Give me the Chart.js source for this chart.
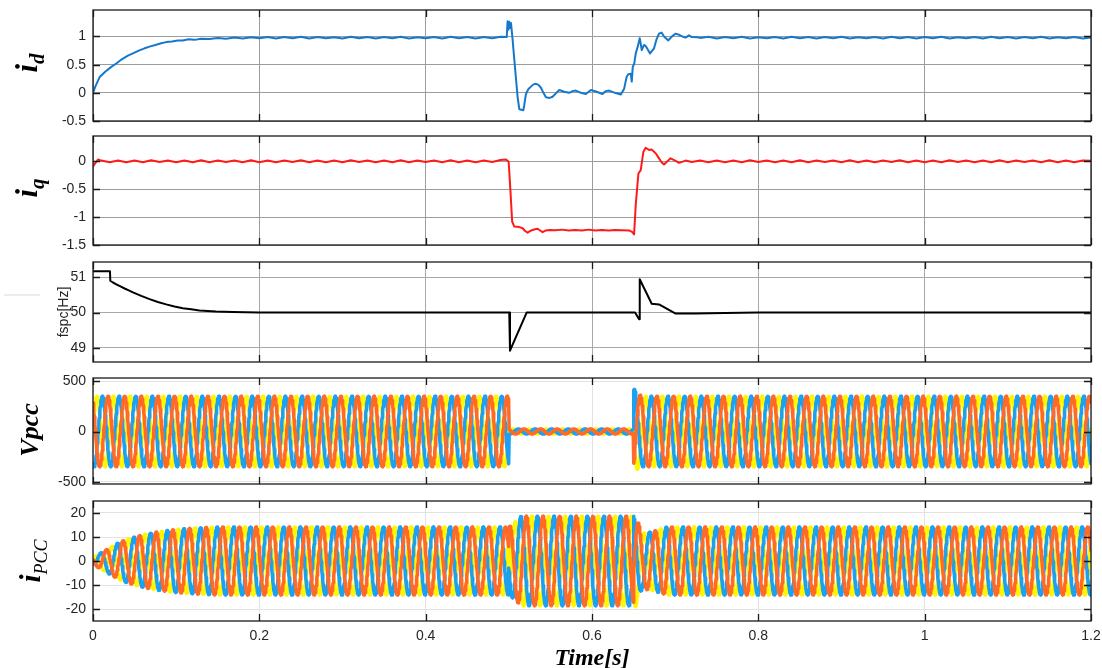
<!DOCTYPE html>
<html>
<head>
<meta charset="utf-8">
<script src="https://cdn.jsdelivr.net/npm/chart.js@4.4.1/dist/chart.umd.min.js"></script>
<style>
  html, body { margin: 0; padding: 0; background: #ffffff; }
  #wrap { position: relative; width: 1102px; height: 668px; overflow: hidden; background: #fff; }
  .panel { position: absolute; left: 0; width: 1102px; }
  .ylab { position: absolute; white-space: nowrap; transform: translate(-50%, -50%) rotate(-90deg); transform-origin: center center; line-height: 1; color: #000; }
  .serif { font-family: "Liberation Serif", "Times New Roman", serif; font-style: italic; font-weight: bold; }
  .sans { font-family: "Liberation Sans", Arial, sans-serif; }
  #xtitle { position: absolute; left: 592px; top: 657px; transform: translate(-50%, -50%); white-space: nowrap; font-size: 24px; line-height: 1; }
  #dash { position: absolute; left: 4px; top: 294px; width: 36px; height: 2px; background: #ececec; }
</style>
</head>
<body>
<div id="wrap">
  <div class="panel" id="p1"><canvas id="c1"></canvas></div>
  <div class="panel" id="p2"><canvas id="c2"></canvas></div>
  <div class="panel" id="p3"><canvas id="c3"></canvas></div>
  <div class="panel" id="p4"><canvas id="c4"></canvas></div>
  <div class="panel" id="p5"><canvas id="c5"></canvas></div>

  <div class="ylab serif" style="left:29px;top:63px;font-size:31px;">i<sub style="font-size:21px;vertical-align:-7px;">d</sub></div>
  <div class="ylab serif" style="left:29px;top:188px;font-size:31px;">i<sub style="font-size:21px;vertical-align:-7px;">q</sub></div>
  <div class="ylab sans" style="left:63px;top:312px;font-size:14px;color:#262626;">fspc[Hz]</div>
  <div class="ylab serif" style="left:30px;top:430px;font-size:26px;">Vpcc</div>
  <div class="ylab serif" style="left:33px;top:561px;font-size:29px;">i<sub style="font-size:18px;font-weight:normal;vertical-align:-7px;">PCC</sub></div>
  <div id="xtitle" class="serif">Time[s]</div>
  <div id="dash"></div>
</div>

<script>
// ---- shared time axis ----
const timeTicks = [0, 0.2, 0.4, 0.6, 0.8, 1, 1.2];
const timeTickLabels = ['0', '0.2', '0.4', '0.6', '0.8', '1', '1.2'];

// ---- d-axis current i_d (p.u.) ----
const idT = [0, 0.003, 0.008, 0.015, 0.022, 0.028, 0.035, 0.042, 0.048, 0.055, 0.062, 0.068, 0.075, 0.082, 0.088, 0.095, 0.102, 0.108, 0.115, 0.122, 0.13,
  0.14, 0.15, 0.16, 0.17, 0.18, 0.19, 0.20, 0.21, 0.22, 0.23, 0.24, 0.25, 0.26, 0.27, 0.28, 0.29, 0.30, 0.31, 0.32, 0.33, 0.34, 0.35, 0.36, 0.37, 0.38, 0.39, 0.40, 0.41, 0.42, 0.43, 0.44, 0.45, 0.46, 0.47, 0.48, 0.49,
  0.4975, 0.4985, 0.4995, 0.5005, 0.5015, 0.5026, 0.5045, 0.5066, 0.5086, 0.5106, 0.5126, 0.515, 0.5174, 0.5185, 0.5206, 0.5236, 0.5266, 0.5296, 0.5326, 0.5356, 0.5386, 0.5416, 0.5446, 0.549, 0.5526, 0.5566, 0.5606, 0.5666, 0.5726, 0.5766, 0.5806, 0.5866, 0.5926, 0.5986, 0.6056, 0.6126, 0.6166, 0.6206, 0.6276, 0.6346, 0.6386, 0.6416, 0.6436, 0.6466, 0.6478, 0.649, 0.6508, 0.6526, 0.655, 0.6574, 0.6586, 0.6598, 0.6625, 0.6646, 0.6698, 0.6746, 0.6776, 0.6806, 0.6836, 0.6866, 0.6918, 0.696, 0.7006, 0.7046, 0.7086, 0.7126, 0.7166, 0.72, 0.7266, 0.73,
  0.74, 0.75, 0.76, 0.77, 0.78, 0.79, 0.80, 0.81, 0.82, 0.83, 0.84, 0.85, 0.86, 0.87, 0.88, 0.89, 0.90, 0.91, 0.92, 0.93, 0.94, 0.95, 0.96, 0.97, 0.98, 0.99, 1.00, 1.01, 1.02, 1.03, 1.04, 1.05, 1.06, 1.07, 1.08, 1.09, 1.10, 1.11, 1.12, 1.13, 1.14, 1.15, 1.16, 1.17, 1.18, 1.19, 1.20];
const idV = [0, 0.12, 0.28, 0.38, 0.46, 0.52, 0.60, 0.66, 0.70, 0.75, 0.79, 0.82, 0.85, 0.88, 0.90, 0.91, 0.93, 0.93, 0.95, 0.94, 0.96,
  0.955, 0.975, 0.96, 0.98, 0.965, 0.985, 0.97, 0.99, 0.965, 0.99, 0.97, 0.995, 0.965, 0.99, 0.97, 0.985, 0.965, 0.995, 0.97, 0.99, 0.965, 0.99, 0.97, 0.995, 0.965, 0.985, 0.97, 0.99, 0.965, 0.995, 0.97, 0.99, 0.965, 0.99, 0.97, 0.995,
  0.99, 1.27, 1.12, 1.26, 1.15, 1.24, 0.95, 0.59, 0.25, -0.08, -0.29, -0.30, -0.31, -0.22, -0.02, 0.07, 0.11, 0.15, 0.16, 0.14, 0.09, 0.0, -0.08, -0.09, -0.07, -0.01, 0.05, 0.02, 0.0, 0.03, 0.04, 0.0, -0.02, 0.05, 0.02, -0.02, 0.03, 0.04, 0.0, -0.03, 0.07, 0.28, 0.33, 0.34, 0.20, 0.46, 0.52, 0.70, 0.82, 0.97, 0.87, 0.76, 0.85, 0.83, 0.70, 0.79, 0.95, 1.05, 1.07, 1.0, 0.93, 1.0, 1.05, 1.03, 1.0, 0.98, 1.02, 0.99, 0.985, 0.975,
  0.995, 0.965, 0.99, 0.97, 0.995, 0.965, 0.985, 0.97, 0.99, 0.965, 0.995, 0.97, 0.99, 0.965, 0.99, 0.97, 0.995, 0.965, 0.985, 0.97, 0.99, 0.965, 0.995, 0.97, 0.99, 0.965, 0.99, 0.97, 0.995, 0.965, 0.985, 0.97, 0.99, 0.965, 0.995, 0.97, 0.99, 0.965, 0.99, 0.97, 0.995, 0.965, 0.985, 0.97, 0.99, 0.965, 0.98];

// ---- q-axis current i_q (p.u.) ----
const iqT = [0, 0.003, 0.006, 0.01,
  0.02, 0.03, 0.04, 0.05, 0.06, 0.07, 0.08, 0.09, 0.10, 0.11, 0.12, 0.13, 0.14, 0.15, 0.16, 0.17, 0.18, 0.19, 0.20, 0.21, 0.22, 0.23, 0.24, 0.25, 0.26, 0.27, 0.28, 0.29, 0.30, 0.31, 0.32, 0.33, 0.34, 0.35, 0.36, 0.37, 0.38, 0.39, 0.40, 0.41, 0.42, 0.43, 0.44, 0.45, 0.46, 0.47, 0.48, 0.49,
  0.4966, 0.4998, 0.502, 0.504, 0.5066, 0.5126, 0.5166, 0.5196, 0.5226, 0.5256, 0.5286, 0.5316, 0.5346, 0.5376, 0.5406, 0.5446, 0.5486, 0.556, 0.564, 0.572, 0.58, 0.588, 0.596, 0.604, 0.612, 0.62, 0.628, 0.636, 0.6446, 0.6486, 0.6506, 0.6526, 0.6558, 0.6586, 0.6618, 0.6646, 0.6686, 0.6716, 0.6746, 0.6776, 0.6806, 0.6836, 0.6866, 0.69, 0.6946, 0.70, 0.7046, 0.7126, 0.72, 0.73,
  0.74, 0.75, 0.76, 0.77, 0.78, 0.79, 0.80, 0.81, 0.82, 0.83, 0.84, 0.85, 0.86, 0.87, 0.88, 0.89, 0.90, 0.91, 0.92, 0.93, 0.94, 0.95, 0.96, 0.97, 0.98, 0.99, 1.00, 1.01, 1.02, 1.03, 1.04, 1.05, 1.06, 1.07, 1.08, 1.09, 1.10, 1.11, 1.12, 1.13, 1.14, 1.15, 1.16, 1.17, 1.18, 1.19, 1.20];
const iqV = [-0.10, -0.03, 0.03, 0.01,
  -0.02, 0.012, -0.018, 0.01, -0.02, 0.015, -0.015, 0.01, -0.02, 0.012, -0.018, 0.015, -0.02, 0.01, -0.015, 0.012, -0.02, 0.015, -0.018, 0.01, -0.02, 0.012, -0.015, 0.015, -0.02, 0.01, -0.018, 0.012, -0.02, 0.015, -0.015, 0.01, -0.02, 0.012, -0.018, 0.015, -0.02, 0.01, -0.015, 0.012, -0.02, 0.015, -0.018, 0.01, -0.02, 0.012, -0.015, 0.02,
  0.03, -0.01, -0.55, -1.08, -1.17, -1.18, -1.20, -1.25, -1.28, -1.25, -1.23, -1.22, -1.21, -1.24, -1.27, -1.24, -1.23, -1.235, -1.225, -1.24, -1.23, -1.24, -1.225, -1.24, -1.23, -1.24, -1.23, -1.235, -1.24, -1.27, -1.31, -0.78, -0.22, -0.16, 0.17, 0.24, 0.20, 0.21, 0.17, 0.12, 0.05, -0.02, -0.06, -0.01, 0.05, 0.01, -0.03, 0.01, -0.015, 0.01,
  -0.02, 0.012, -0.018, 0.01, -0.02, 0.015, -0.015, 0.01, -0.02, 0.012, -0.018, 0.015, -0.02, 0.01, -0.015, 0.012, -0.02, 0.015, -0.018, 0.01, -0.02, 0.012, -0.015, 0.015, -0.02, 0.01, -0.018, 0.012, -0.02, 0.015, -0.015, 0.01, -0.02, 0.012, -0.018, 0.015, -0.02, 0.01, -0.015, 0.012, -0.02, 0.015, -0.018, 0.01, -0.02, 0.012, 0.005];

// ---- PLL frequency fspc (Hz) ----
const fT = [0, 0.0204, 0.0208, 0.024, 0.028, 0.033, 0.038, 0.043, 0.048, 0.058, 0.068, 0.078, 0.088, 0.098, 0.108, 0.118, 0.128, 0.148, 0.168, 0.2, 0.3, 0.4, 0.5005, 0.5014, 0.5214, 0.6, 0.6518, 0.6566, 0.6574, 0.6718, 0.6806, 0.7006, 0.7246, 0.76, 0.8, 1.0, 1.2];
const fV = [51.17, 51.17, 50.9, 50.85, 50.8, 50.74, 50.68, 50.625, 50.57, 50.47, 50.38, 50.3, 50.23, 50.17, 50.12, 50.09, 50.06, 50.03, 50.015, 50.0, 50.0, 50.0, 50.0, 48.92, 50.0, 50.0, 50.0, 49.81, 50.94, 50.25, 50.23, 49.97, 49.97, 49.99, 50.0, 50.0, 50.0];

// ---- three-phase PCC voltage: peak envelope (V) ----
const gridFreq = 50;            // Hz
const vpccEnvT = [0, 0.5, 0.5004, 0.65, 0.6504, 0.653, 0.66, 1.2];
const vpccEnvA = [350, 350, 25, 25, 430, 380, 350, 350];
const vpccPhaseT = [0];
const vpccPhaseDeg = [0];
const vpccPeakTime = 0.018;     // phase "a" crest

// ---- three-phase PCC current: peak envelope (A) ----
const ipccEnvT = [0, 0.005, 0.01, 0.02, 0.03, 0.04, 0.06, 0.08, 0.10, 0.12, 0.15, 0.5, 0.505, 0.515, 0.648, 0.652, 0.66, 0.675, 0.69, 1.2];
const ipccEnvA = [1.2, 2.5, 3.5, 5.5, 7.5, 9.0, 11.0, 12.3, 13.2, 13.7, 14.2, 14.2, 15.5, 18.7, 18.7, 19.5, 11.5, 12.5, 14.2, 14.2];
const ipccPhaseT = [0, 0.5, 0.65];
const ipccPhaseDeg = [0, -90, 0];
const ipccPeakTime = 0.016;

const phaseColors = ['#FF6A26', '#1CA0F2', '#FFF700'];   // a (drawn on top), b, c
const phaseShiftDeg = [0, 120, -120];

// ---- y ranges and ticks ----
const idTicks = [-0.5, 0, 0.5, 1];
const iqTicks = [-1.5, -1, -0.5, 0];
const fTicks = [49, 50, 51];
const vTicks = [-500, 0, 500];
const iTicks = [-20, -10, 0, 10, 20];

// ---------------------------------------------------------------
function pairs(ts, vs) { return ts.map((t, i) => ({ x: t, y: vs[i] })); }

function interp(ts, vs, t) {
  if (t <= ts[0]) return vs[0];
  for (let i = 1; i < ts.length; i++) {
    if (t <= ts[i]) {
      const f = (t - ts[i - 1]) / (ts[i] - ts[i - 1] || 1);
      return vs[i - 1] + f * (vs[i] - vs[i - 1]);
    }
  }
  return vs[vs.length - 1];
}
function stepAt(ts, vs, t) {
  let v = vs[0];
  for (let i = 0; i < ts.length; i++) if (t >= ts[i]) v = vs[i];
  return v;
}
// balanced three-phase traces sampled on the simulation step
function threePhase(envT, envA, phT, phDeg, tPeak) {
  const dt = 0.0004, n = Math.round(1.2 / dt);
  const out = [[], [], []];
  for (let k = 0; k <= n; k++) {
    const t = k * dt;
    const a = interp(envT, envA, t);
    const th = 2 * Math.PI * gridFreq * (t - tPeak) + stepAt(phT, phDeg, t) * Math.PI / 180;
    for (let p = 0; p < 3; p++) {
      out[p].push({ x: t, y: a * Math.cos(th + phaseShiftDeg[p] * Math.PI / 180) });
    }
  }
  return out;
}

// frame: box border and inward tick marks
const framePlugin = {
  id: 'frame',
  afterDraw(chart) {
    const { ctx, chartArea: a, scales } = chart;
    const o = chart.options.plugins.frame || {};
    ctx.save();
    ctx.strokeStyle = '#1a1a1a';
    ctx.lineWidth = 1.3;
    ctx.beginPath();
    const tl = 7;
    for (const t of timeTicks) {
      const x = Math.round(scales.x.getPixelForValue(t)) + 0.5;
      ctx.moveTo(x, a.top); ctx.lineTo(x, a.top + tl);
      ctx.moveTo(x, a.bottom); ctx.lineTo(x, a.bottom - tl);
    }
    for (const v of (o.yTicks || [])) {
      const y = Math.round(scales.y.getPixelForValue(v)) + 0.5;
      ctx.moveTo(a.left, y); ctx.lineTo(a.left + tl, y);
      ctx.moveTo(a.right, y); ctx.lineTo(a.right - tl, y);
    }
    ctx.stroke();
    ctx.strokeRect(a.left, a.top, a.right - a.left, a.bottom - a.top);
    ctx.restore();
  }
};

const CHART_LEFT = 93, CHART_RIGHT = 1091, PAD = 6;

function makePanel(n, areaTop, areaBottom, datasets, yMin, yMax, yTicks, gridColor, showX) {
  const div = document.getElementById('p' + n);
  const top = areaTop - PAD;
  const height = showX ? 668 - top : (areaBottom - areaTop) + 2 * PAD;
  const xAxisH = showX ? height - PAD - (areaBottom - areaTop) : 0;
  div.style.top = top + 'px';
  div.style.height = height + 'px';
  const tickFont = { family: '"Liberation Sans", Arial, sans-serif', size: 14 };
  return new Chart(document.getElementById('c' + n), {
    type: 'line',
    data: { datasets },
    plugins: [framePlugin],
    options: {
      responsive: true,
      maintainAspectRatio: false,
      animation: false,
      events: [],
      layout: { padding: { left: 0, right: 1102 - CHART_RIGHT, top: PAD, bottom: showX ? 0 : PAD } },
      elements: { point: { radius: 0 }, line: { tension: 0, borderJoinStyle: 'round', borderCapStyle: 'round' } },
      plugins: { legend: { display: false }, tooltip: { enabled: false }, frame: { yTicks } },
      scales: {
        x: {
          type: 'linear', min: 0, max: 1.2,
          afterBuildTicks: s => { s.ticks = timeTicks.map(v => ({ value: v })); },
          afterFit: s => { s.height = xAxisH; s.paddingLeft = 0; s.paddingRight = 0; s.paddingTop = 0; s.paddingBottom = 0; },
          grid: { color: gridColor, lineWidth: 1, drawTicks: false },
          border: { display: false },
          ticks: {
            display: !!showX, padding: 7, color: '#262626', font: tickFont, maxRotation: 0,
            callback: (v) => timeTickLabels[timeTicks.indexOf(v)] ?? ''
          }
        },
        y: {
          type: 'linear', min: yMin, max: yMax,
          afterBuildTicks: s => { s.ticks = yTicks.map(v => ({ value: v })); },
          afterFit: s => { s.width = CHART_LEFT; s.paddingTop = 0; s.paddingBottom = 0; s.paddingLeft = 0; s.paddingRight = 0; },
          grid: { color: gridColor, lineWidth: 1, drawTicks: false },
          border: { display: false },
          ticks: { padding: 7, color: '#262626', font: tickFont, callback: v => String(v) }
        }
      }
    }
  });
}

// panel 1: i_d
makePanel(1, 10, 121, [
  { data: pairs(idT, idV), borderColor: '#1479CC', borderWidth: 2, fill: false }
], -0.5, 1.47, idTicks, '#9c9c9c', false);

// panel 2: i_q
makePanel(2, 136, 245, [
  { data: pairs(iqT, iqV), borderColor: '#FF1A1A', borderWidth: 2, fill: false }
], -1.5, 0.45, iqTicks, '#9c9c9c', false);

// panel 3: fspc
makePanel(3, 262, 362, [
  { data: pairs(fT, fV), borderColor: '#000000', borderWidth: 2, fill: false }
], 48.6, 51.43, fTicks, '#a8a8a8', false);

// panel 4: Vpcc
const vp = threePhase(vpccEnvT, vpccEnvA, vpccPhaseT, vpccPhaseDeg, vpccPeakTime);
makePanel(4, 378, 484, vp.map((d, p) => ({ data: d, borderColor: phaseColors[p], borderWidth: 3.5, fill: false })),
  -520, 530, vTicks, '#e2e2e2', false);

// panel 5: i_PCC
const ip = threePhase(ipccEnvT, ipccEnvA, ipccPhaseT, ipccPhaseDeg, ipccPeakTime);
makePanel(5, 501, 621, ip.map((d, p) => ({ data: d, borderColor: phaseColors[p], borderWidth: 3.5, fill: false })),
  -25, 25, iTicks, '#e2e2e2', true);
</script>
</body>
</html>
